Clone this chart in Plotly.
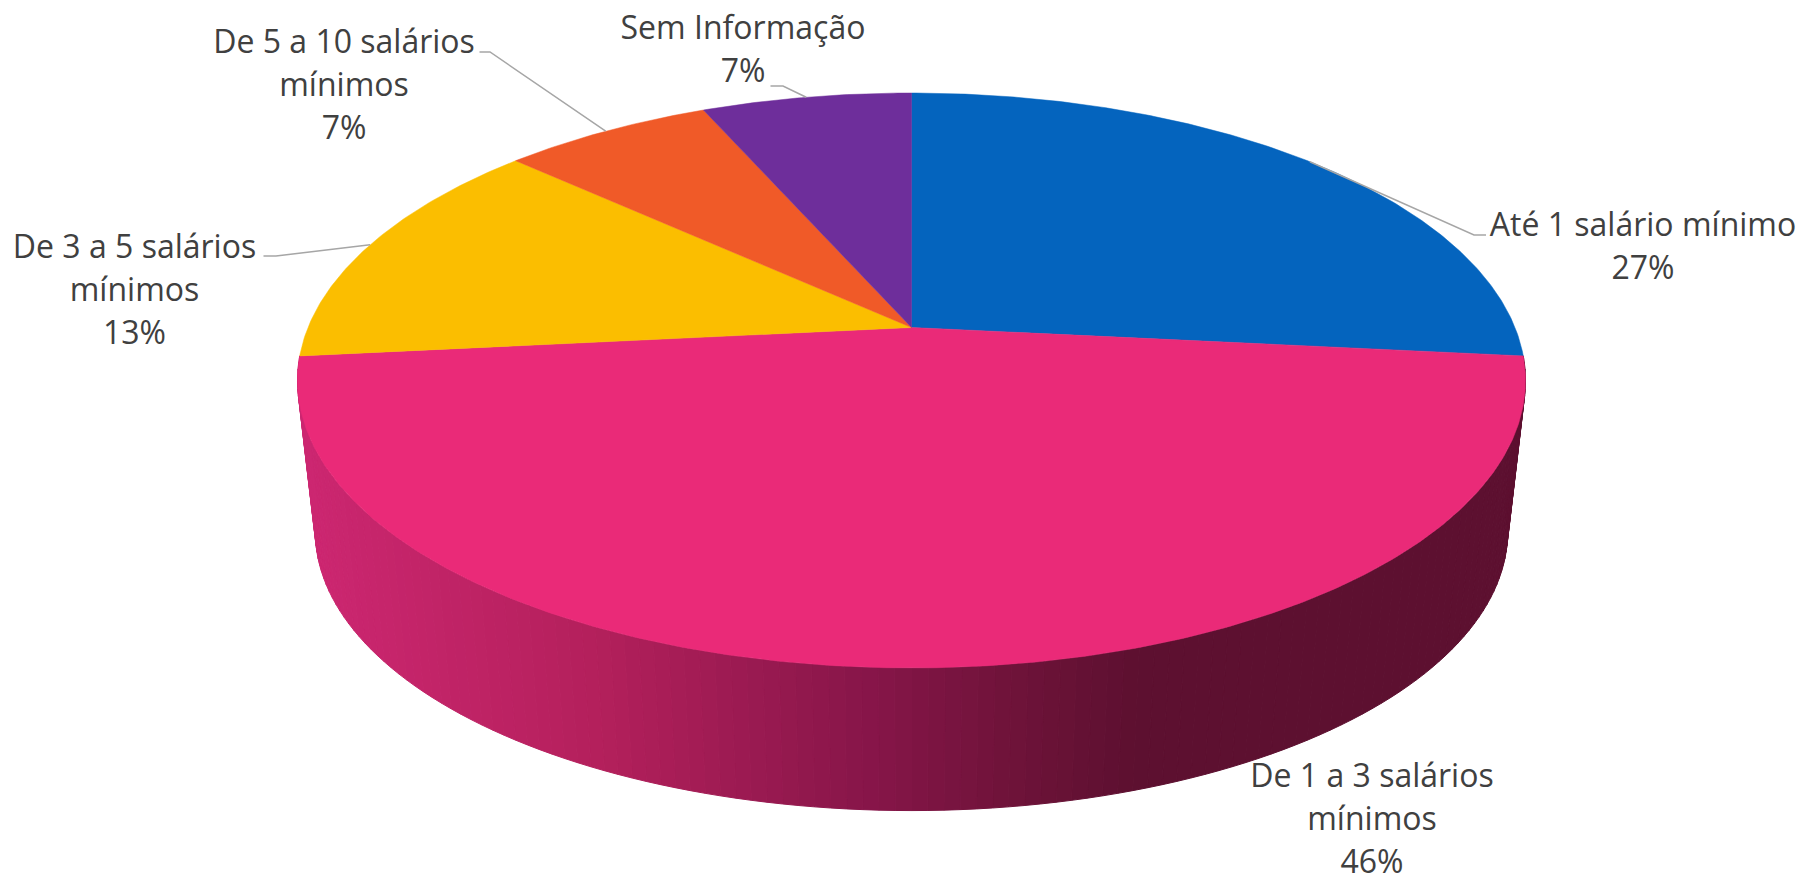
import math
import plotly.graph_objects as go

# ---- data (clockwise from 12 o'clock) ----
categories = ["Até 1 salário mínimo", "De 1 a 3 salários mínimos", "De 3 a 5 salários mínimos",
              "De 5 a 10 salários mínimos", "Sem Informação"]
values = [26.6, 46.8, 13.4, 6.6, 6.6]
pct_labels = ["27%", "46%", "13%", "7%", "7%"]
wrapped = [["Até 1 salário mínimo"], ["De 1 a 3 salários", "mínimos"], ["De 3 a 5 salários", "mínimos"],
           ["De 5 a 10 salários", "mínimos"], ["Sem Informação"]]

# ---- style / layout ----
colors = ["#0464BE", "#EA2A78", "#FBBE00", "#F05A28", "#6E2E9B"]
TEXT = "#404040"
LEADER = "#A6A6A6"
FONT = "Open Sans"
FS = 32
LINE_H = 43
label_center = [(1643, 228), (1372, 779), (134.5, 250), (344, 45), (743, 31)]
leader_mid = [[(1474, 235), (1486, 235)], None, [(276, 256), (263.5, 256)], [(490, 52), (479.5, 52)],
              [(783, 86), (770.5, 86)]]
CX, CY = 911.5, 327.5
A, C, B = 603.5, 277.7, 0.1843
WALL_Y, WALL_S = 480, 0.971
grad_stops = [(297, (0xCE, 0x27, 0x72)), (600, (0xB4, 0x20, 0x5C)), (880, (0x85, 0x15, 0x48)),
              (1000, (0x70, 0x13, 0x3A)), (1130, (0x5D, 0x10, 0x30)), (1530, (0x5D, 0x10, 0x30))]


def project(deg, r=1.0):
    """Plane angle (clockwise from the top) to the picture, with perspective."""
    t = math.radians(deg)
    x, y = r * math.sin(t), -r * math.cos(t)
    w = 1 - B * y
    return A * x / w, C * y / w


def top_pt(deg, r=1.0):
    px, py = project(deg, r)
    return CX + px, CY + py


def low_pt(deg):
    px, py = project(deg)
    return CX + WALL_S * px, WALL_Y + WALL_S * py


def wall_color(x):
    for (x0, c0), (x1, c1) in zip(grad_stops, grad_stops[1:]):
        if x <= x1:
            f = max(0, (x - x0) / (x1 - x0))
            return "rgb(%d,%d,%d)" % tuple(round(a + (b - a) * f) for a, b in zip(c0, c1))
    return "rgb(%d,%d,%d)" % grad_stops[-1][1]


total = sum(values)
edges = [0.0]
for v in values:
    edges.append(edges[-1] + 360 * v / total)

fig = go.Figure()

# side wall of the biggest slice, as narrow strips
i_big = values.index(max(values))
a0, a1 = edges[i_big], edges[i_big + 1]
N = 130
for i in range(N):
    s = a0 + (a1 - a0) * i / N
    e = a0 + (a1 - a0) * (i + 1) / N
    p = [top_pt(s), top_pt(e), low_pt(e), low_pt(s), top_pt(s)]
    col = wall_color((low_pt(s)[0] + low_pt(e)[0]) / 2)
    fig.add_trace(go.Scatter(x=[q[0] for q in p], y=[q[1] for q in p], mode="lines", fill="toself",
                             fillcolor=col, line=dict(color=col, width=1), hoverinfo="skip", showlegend=False))

# top face
for i, name in enumerate(categories):
    n = max(8, int(edges[i + 1] - edges[i]) * 2)
    pts = [top_pt(edges[i] + (edges[i + 1] - edges[i]) * k / n) for k in range(n + 1)]
    pts = [(CX, CY)] + pts + [(CX, CY)]
    fig.add_trace(go.Scatter(x=[q[0] for q in pts], y=[q[1] for q in pts], mode="lines", fill="toself",
                             fillcolor=colors[i], line=dict(color=colors[i], width=0.5), name=name,
                             hoverinfo="name", showlegend=False))

# leader lines
for i, mid in enumerate(leader_mid):
    if mid is None:
        continue
    st = top_pt((edges[i] + edges[i + 1]) / 2)
    xs = [st[0]] + [m[0] for m in mid]
    ys = [st[1]] + [m[1] for m in mid]
    fig.add_trace(go.Scatter(x=xs, y=ys, mode="lines", line=dict(color=LEADER, width=1.5),
                             hoverinfo="skip", showlegend=False))

# labels, one text line at a time to hold the line height
for i, lines in enumerate(wrapped):
    all_lines = lines + [pct_labels[i]]
    cx, y0 = label_center[i]
    fig.add_trace(go.Scatter(x=[cx] * len(all_lines), y=[y0 + LINE_H * k for k in range(len(all_lines))],
                             text=all_lines, mode="text", textposition="middle center",
                             textfont=dict(family=FONT, size=FS, color=TEXT),
                             hoverinfo="skip", showlegend=False, cliponaxis=False))

fig.update_layout(width=1802, height=876, margin=dict(l=0, r=0, t=0, b=0),
                  paper_bgcolor="white", plot_bgcolor="white", showlegend=False,
                  xaxis=dict(range=[0, 1802], visible=False, fixedrange=True),
                  yaxis=dict(range=[876, 0], visible=False, fixedrange=True))

fig.write_html("out.html", config={"displayModeBar": False},
               post_script="document.body.style.margin='0';document.body.style.overflow='hidden';")
